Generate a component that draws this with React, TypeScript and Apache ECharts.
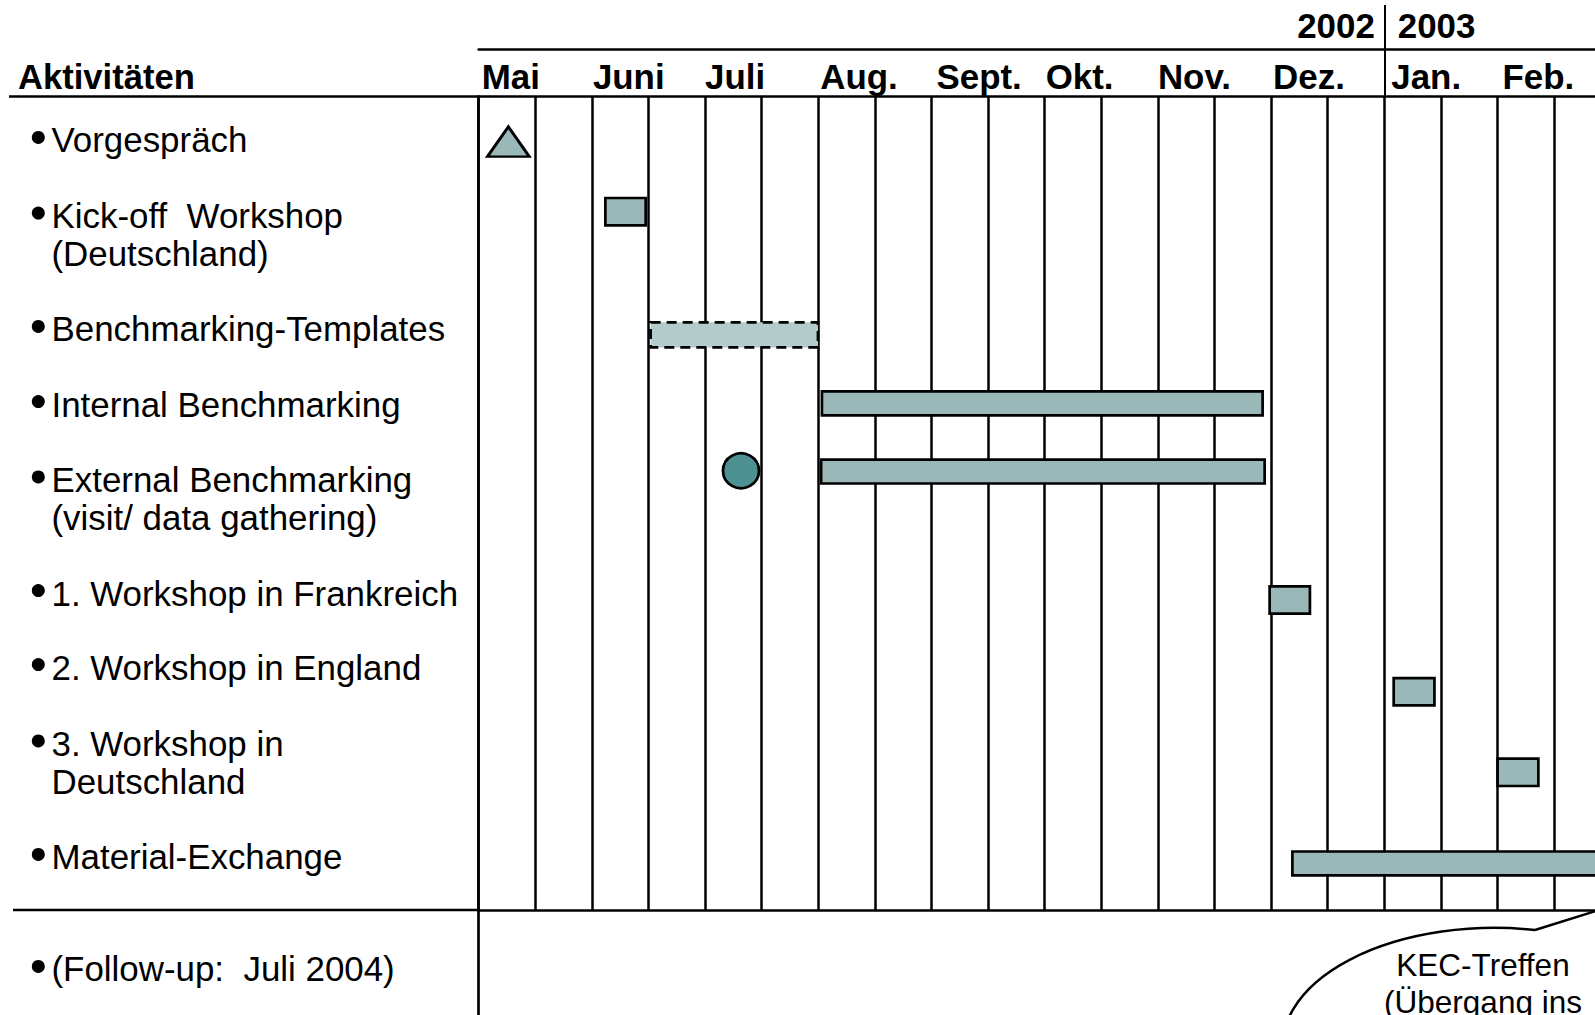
import React, { useEffect, useRef } from 'react';
import * as echarts from 'echarts';

// ---------- data ----------
const months = ['Mai', 'Juni', 'Juli', 'Aug.', 'Sept.', 'Okt.', 'Nov.', 'Dez.', 'Jan.', 'Feb.'];
const years = ['2002', '2003'];
const yearBoundary = 8; // months after 1 May 2002 -> Jan 2003

const activityLabels: string[][] = [
  ['Vorgespräch'],
  ['Kick-off  Workshop', '(Deutschland)'],
  ['Benchmarking-Templates'],
  ['Internal Benchmarking'],
  ['External Benchmarking', '(visit/ data gathering)'],
  ['1. Workshop in Frankreich'],
  ['2. Workshop in England'],
  ['3. Workshop in', 'Deutschland'],
  ['Material-Exchange'],
];
const activityLanes = [0.481, 1.527, 2.572, 3.402, 4.447, 5.493, 6.312, 7.368, 8.413];
const followUpLabels: string[][] = [['(Follow-up:  Juli 2004)']];
const followUpLanes = [9.652];

// bars: start / end in months after 1 May 2002, lane = row position
const barStart = [1.119, 1.519, 3.032, 3.025, 6.987, 8.083, 9.001, 7.188];
const barEnd = [1.475, 2.997, 6.925, 6.943, 7.343, 8.443, 9.361, 10.0];
const barLane = [1.274, 2.637, 3.395, 4.149, 5.57, 6.585, 7.477, 8.485];
const barKind = ['box', 'plan', 'bar', 'bar', 'box', 'box', 'box', 'bar'];

const triangleMilestones = [[0.262, 0.5]];
const circleMilestones = [[2.317, 4.14]];

const calloutLines = ['KEC-Treffen', '(Übergang ins'];

// ---------- layout / style ----------
const FONT = '"Liberation Sans", Arial, Helvetica, sans-serif';
const W = 1595;
const H = 1015;
const GL = 478.7;
const GT = 96.5;
const MONTH_PX = 113.2;
const LANE_PX = 90.39;
const GW = MONTH_PX * 10;
const GH = LANE_PX * 9;
const LINE_W = 2.7;
const FS = 34.9;
const FILL = '#9AB8B8';
const FILL_PLAN = '#B4CBCB';
const FILL_CIRCLE = '#4E9193';
const THICK: Record<string, number> = { box: 0.302, plan: 0.277, bar: 0.265 };
// small horizontal nudges of the month captions (text boxes in the original slide)
const MONTH_NUDGE = [3, 1, 0, 2, 5, 1, 0, 2, 7, 5];

const monthRich: Record<string, any> = {};
MONTH_NUDGE.forEach((n, i) => {
  monthRich['m' + i] = {
    fontSize: FS,
    fontWeight: 'bold',
    fontFamily: FONT,
    color: '#000',
    padding: [0, 0, 0, n],
  };
});

const bubblePath =
  'M1535 930 L1612 906 L1650 965.5 A212 118 0 1 1 1535 930 Z';
echarts.graphic.registerShape('calloutBubble', echarts.graphic.extendPath(bubblePath, {}) as any);

function makeLabelRender(lines: string[][]) {
  return (params: any, api: any) => {
    const idx = api.value(2);
    const ls = lines[idx];
    const p = api.coord([0, api.value(1)]);
    const lh = 38;
    const y0 = p[1] - ((ls.length - 1) * lh) / 2;
    const children: any[] = [
      {
        type: 'circle',
        shape: { cx: p[0] - 440.4, cy: y0 - 2.5, r: 6.5 },
        style: { fill: '#000' },
      },
    ];
    ls.forEach((t, i) => {
      children.push({
        type: 'text',
        style: {
          text: t,
          x: p[0] - 427.2,
          y: y0 + i * lh,
          fill: '#000',
          fontSize: FS,
          fontFamily: FONT,
          align: 'left',
          verticalAlign: 'middle',
        },
      });
    });
    return { type: 'group', children };
  };
}

const barRender = (params: any, api: any) => {
  const kind = barKind[params.dataIndex];
  const s = api.coord([api.value(0), api.value(2)]);
  const e = api.coord([api.value(1), api.value(2)]);
  const h = api.size([0, THICK[kind]])[1];
  return {
    type: 'rect',
    shape: { x: s[0], y: s[1] - h / 2, width: e[0] - s[0], height: h },
    style: {
      fill: kind === 'plan' ? FILL_PLAN : FILL,
      stroke: '#000',
      lineWidth: LINE_W,
      lineDash: kind === 'plan' ? [10, 6] : null,
    },
  };
};

const axisLineStyle = { show: true, onZero: false, lineStyle: { color: '#000', width: LINE_W } };

export default function App() {
  const ref = useRef<HTMLDivElement>(null);
  useEffect(() => {
    if (!ref.current) return;
    const chart = echarts.init(ref.current, undefined, { renderer: 'svg' });
    const option: any = {
      animation: false,
      backgroundColor: '#fff',
      title: {
        text: 'Aktivitäten',
        left: 18,
        top: 59.8,
        padding: 0,
        textStyle: { fontSize: 34.6, fontWeight: 'bold', fontFamily: FONT, color: '#000' },
      },
      grid: [
        { left: GL, top: GT, width: GW, height: GH, outerBoundsMode: 'none', containLabel: false },
        {
          left: GL,
          top: GT + GH,
          width: GW,
          height: LANE_PX * 2,
          outerBoundsMode: 'none',
          containLabel: false,
        },
      ],
      xAxis: [
        {
          gridIndex: 0,
          type: 'value',
          min: 0,
          max: 10,
          interval: 0.5,
          position: 'bottom',
          axisLine: axisLineStyle,
          axisTick: { show: false },
          axisLabel: { show: false },
          splitLine: { show: true, lineStyle: { color: '#000', width: 2.5 } },
        },
        {
          gridIndex: 0,
          type: 'value',
          min: 0,
          max: 10,
          interval: 1,
          position: 'top',
          axisLine: axisLineStyle,
          axisTick: {
            show: true,
            customValues: [yearBoundary],
            length: 91.5,
            lineStyle: { color: '#000', width: 2 },
          },
          axisLabel: {
            show: true,
            formatter: (v: number) => {
              const i = Math.round(v);
              return months[i] ? `{m${i}|${months[i]}}` : '';
            },
            align: 'left',
            verticalAlign: 'middle',
            margin: 19.7,
            fontSize: FS,
            fontWeight: 'bold',
            fontFamily: FONT,
            color: '#000',
            rich: monthRich,
          },
          splitLine: { show: false },
        },
        {
          gridIndex: 0,
          type: 'value',
          min: 0,
          max: 10,
          interval: 1,
          position: 'top',
          offset: 47.2,
          axisLine: axisLineStyle,
          axisTick: { show: false },
          axisLabel: {
            show: true,
            formatter: (v: number) =>
              Math.round(v) === yearBoundary ? `{y|${years[0]}}{g| }{y|${years[1]}}` : '',
            verticalAlign: 'middle',
            margin: 24,
            padding: [0, 0, 0, 4],
            rich: {
              y: { fontSize: FS, fontWeight: 'bold', fontFamily: FONT, color: '#000' },
              g: { width: 23 },
            },
          },
          splitLine: { show: false },
        },
        { gridIndex: 1, type: 'value', min: 0, max: 10, show: false },
      ],
      yAxis: [
        {
          gridIndex: 0,
          type: 'value',
          inverse: true,
          min: 0,
          max: 9,
          axisLine: axisLineStyle,
          axisTick: { show: false },
          axisLabel: { show: false },
          splitLine: { show: false },
        },
        {
          gridIndex: 1,
          type: 'value',
          inverse: true,
          min: 9,
          max: 11,
          axisLine: axisLineStyle,
          axisTick: { show: false },
          axisLabel: { show: false },
          splitLine: { show: false },
        },
      ],
      series: [
        {
          type: 'custom',
          name: 'Aktivitäten',
          xAxisIndex: 0,
          yAxisIndex: 0,
          clip: false,
          renderItem: makeLabelRender(activityLabels),
          data: activityLanes.map((l, i) => [0, l, i]),
          silent: true,
        },
        {
          type: 'custom',
          name: 'Follow-up',
          xAxisIndex: 3,
          yAxisIndex: 1,
          clip: false,
          renderItem: makeLabelRender(followUpLabels),
          data: followUpLanes.map((l, i) => [0, l, i]),
          silent: true,
        },
        {
          type: 'custom',
          name: 'Balken',
          xAxisIndex: 0,
          yAxisIndex: 0,
          clip: false,
          renderItem: barRender,
          encode: { x: [0, 1], y: 2 },
          data: barStart.map((s, i) => [s, barEnd[i], barLane[i]]),
          z: 3,
        },
        {
          type: 'scatter',
          name: 'Vorgespräch',
          xAxisIndex: 0,
          yAxisIndex: 0,
          symbol: 'triangle',
          symbolSize: [42, 30],
          data: triangleMilestones,
          itemStyle: { color: FILL, borderColor: '#000', borderWidth: LINE_W, opacity: 1 },
          z: 4,
        },
        {
          type: 'scatter',
          name: 'Besuch',
          xAxisIndex: 0,
          yAxisIndex: 0,
          symbol: 'circle',
          symbolSize: [36, 35],
          data: circleMilestones,
          itemStyle: { color: FILL_CIRCLE, borderColor: '#000', borderWidth: LINE_W, opacity: 1 },
          z: 4,
        },
      ],
      graphic: [
        {
          type: 'line',
          shape: { x1: 9, y1: GT, x2: GL, y2: GT },
          style: { stroke: '#000', lineWidth: LINE_W },
        },
        {
          type: 'line',
          shape: { x1: 13, y1: GT + GH, x2: GL, y2: GT + GH },
          style: { stroke: '#000', lineWidth: LINE_W },
        },
        {
          type: 'calloutBubble',
          x: 0,
          y: 0,
          style: { fill: '#fff', stroke: '#000', lineWidth: 2.5 },
          z: 10,
        },
        {
          type: 'text',
          x: 1483,
          y: 983.5,
          z: 11,
          style: {
            text: calloutLines.join('\n'),
            fill: '#000',
            fontSize: 31.5,
            fontFamily: FONT,
            align: 'center',
            verticalAlign: 'middle',
            lineHeight: 37,
          },
        },
      ],
    };
    chart.setOption(option);
    return () => chart.dispose();
  }, []);
  return (
    <div
      ref={ref}
      style={{ position: 'fixed', left: 0, top: 0, width: W, height: H, background: '#fff' }}
    />
  );
}
